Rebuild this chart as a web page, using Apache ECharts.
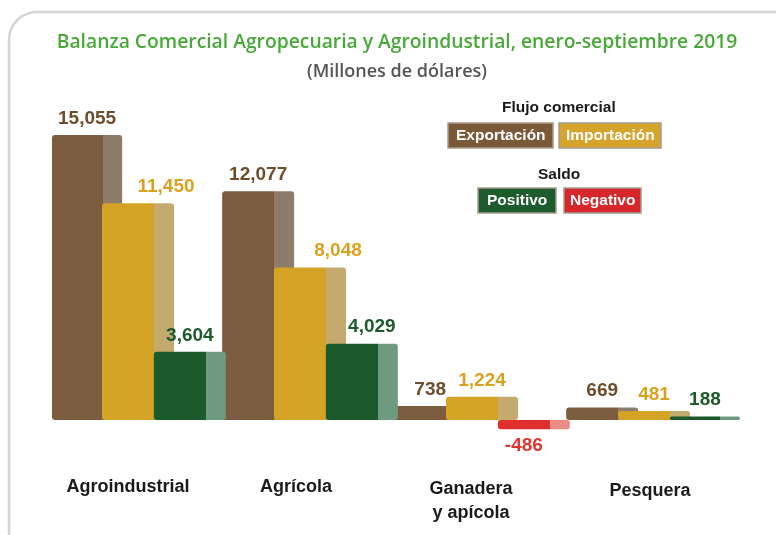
<!DOCTYPE html>
<html>
<head>
<meta charset="utf-8">
<script src="https://cdn.jsdelivr.net/npm/echarts@6/dist/echarts.min.js"></script>
<style>
  html, body { margin: 0; padding: 0; background: #fff; }
  #main { width: 776px; height: 535px; }
</style>
</head>
<body>
<div id="main"></div>
<script>
// datos en millones de dólares
const categorias = ['Agroindustrial', 'Agrícola', 'Ganadera\ny apícola', 'Pesquera']
const exportacion = [15055, 12077, 738, 669]
const importacion = [11450, 8048, 1224, 481]
const saldo = [3604, 4029, -486, 188]

const fmt = (v) => String(v).replace(/\B(?=(\d{3})+(?!\d))/g, ',')
const fuente = 'Liberation Sans, Arial, sans-serif'

// cara frontal + lateral para simular el efecto 3D
const caja = (frente, lado) => new echarts.graphic.LinearGradient(0, 0, 1, 0, [
  { offset: 0, color: frente },
  { offset: 0.72, color: frente },
  { offset: 0.72, color: lado },
  { offset: 1, color: lado }
])

const etiqueta = (color) => ({
  show: true,
  position: 'top',
  distance: 7,
  formatter: (p) => fmt(p.value),
  color: color,
  fontSize: 19,
  fontWeight: 'bold',
  fontFamily: fuente
})

const leyenda = (texto, left, top, fondo, pad) => ({
  text: texto,
  left: left,
  top: top,
  padding: pad,
  backgroundColor: fondo,
  borderColor: '#a59a8e',
  borderWidth: 1.5,
  textStyle: {
    color: '#fff',
    fontSize: 15.5,
    fontWeight: 'bold',
    lineHeight: 17,
    fontFamily: fuente
  }
})

const cat = (pad) => ({
  padding: pad,
  color: '#1a1a1a',
  fontSize: 18,
  fontWeight: 'bold',
  lineHeight: 24,
  fontFamily: fuente
})

const chart = echarts.init(document.getElementById('main'))

const option = {
  animation: false,
  graphic: [
    {
      type: 'rect',
      shape: { x: 9, y: 12, width: 820, height: 580, r: 28 },
      style: { fill: 'none', stroke: '#d4d4d4', lineWidth: 2.5 },
      z: -1
    }
  ],
  title: [
    {
      text: 'Balanza Comercial Agropecuaria y Agroindustrial, enero-septiembre 2019',
      left: 397,
      top: 33,
      padding: 0,
      textAlign: 'center',
      textStyle: { color: '#48a838', fontSize: 19.3, fontWeight: 600, fontFamily: 'Open Sans, sans-serif' }
    },
    {
      text: '(Millones de dólares)',
      left: 397,
      top: 63,
      padding: 0,
      textAlign: 'center',
      textStyle: { color: '#555', fontSize: 18, fontWeight: 600, fontFamily: 'Open Sans, sans-serif' }
    },
    {
      text: 'Flujo comercial',
      left: 502,
      top: 100,
      padding: 0,
      textStyle: { color: '#1a1a1a', fontSize: 15.5, fontWeight: 'bold', fontFamily: fuente }
    },
    leyenda('Exportación', 448, 123, '#7a5838', [4, 8]),
    leyenda('Importación', 559, 123, '#d6a42c', [4, 7]),
    {
      text: 'Saldo',
      left: 538,
      top: 167,
      padding: 0,
      textStyle: { color: '#1a1a1a', fontSize: 15.5, fontWeight: 'bold', fontFamily: fuente }
    },
    leyenda('Positivo', 478, 188, '#1d5c2c', [4, 9]),
    leyenda('Negativo', 564, 188, '#d8272b', [4, 6])
  ],
  grid: { left: 52, right: 36, top: 117, bottom: 96 },
  xAxis: {
    type: 'category',
    data: categorias,
    axisLine: { show: false, onZero: false },
    axisTick: { show: false },
    axisLabel: {
      interval: 0,
      hideOverlap: false,
      margin: 36,
      formatter: (v, i) => '{c' + i + '|' + v + '}',
      rich: {
        c0: cat([0, 20, 0, 0]),
        c1: cat([0, 28, 0, 0]),
        c2: cat([5, 22, 0, 0]),
        c3: cat([8, 8, 0, 0])
      },
      color: '#1a1a1a',
      fontSize: 18,
      fontWeight: 'bold',
      lineHeight: 24,
      fontFamily: fuente
    }
  },
  yAxis: {
    type: 'value',
    min: -1000,
    max: 16000,
    show: false,
    splitLine: { show: false }
  },
  series: [
    {
      name: 'Exportación',
      type: 'bar',
      data: exportacion,
      barWidth: 72,
      barGap: '-28%',
      itemStyle: { color: caja('#7b5c3e', '#8d7c6a'), borderRadius: 3 },
      label: etiqueta('#6e4d2c')
    },
    {
      name: 'Importación',
      type: 'bar',
      barWidth: 72,
      barGap: '-28%',
      // las etiquetas de barras altas se corren a la derecha como en el original
      data: importacion.map((v) => v > 5000 ? { value: v, label: { offset: [28, 0] } } : v),
      itemStyle: { color: caja('#d4a326', '#c4aa6e'), borderRadius: 3 },
      label: etiqueta('#d9a21e')
    },
    {
      name: 'Saldo',
      type: 'bar',
      barWidth: 72,
      barGap: '-28%',
      data: saldo.map((v) => v >= 0
        ? { value: v, itemStyle: { color: caja('#1b5a2a', '#6e9a80'), borderRadius: 3 }, label: { color: '#1c5a2b', position: 'top', offset: [v > 4000 ? 10 : 0, 0] } }
        : { value: v, itemStyle: { color: caja('#e0302e', '#ec8a86'), borderRadius: 3 }, label: { color: '#e2352f', position: 'bottom', offset: [-10, 0] } }),
      label: etiqueta('#1c5a2b')
    }
  ]
}

chart.setOption(option)
</script>
</body>
</html>
